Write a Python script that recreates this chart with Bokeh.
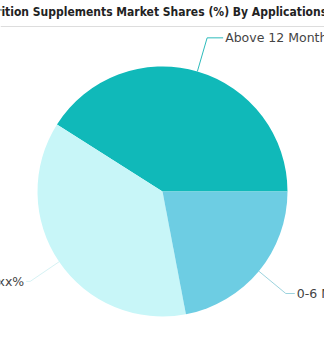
import math
from bokeh.plotting import figure
from bokeh.models import Range1d
from bokeh.core.properties import value
from bokeh.embed import file_html
from bokeh.resources import INLINE

title = "Infant Nutrition Supplements Market Shares (%) By Applications"
categories = ["Above 12 Months", "6-12 Months", "0-6 Months"]
shares = [41, 37, 22]
labels = ["Above 12 Months xx%", "6-12 Months xx%", "0-6 Months xx%"]
colors = ["#10B9B9", "#C8F6F8", "#6DCDE3"]
line_colors = ["#2DBBBB", "#D6F2F4", "#9CD3DE"]

W, H = 324, 359
p = figure(width=W, height=H, output_backend="svg", toolbar_location=None,
           x_range=Range1d(0, W), y_range=Range1d(0, H), min_border=0)
p.axis.visible = False
p.grid.visible = False
p.outline_line_color = None
p.background_fill_color = "white"
p.border_fill_color = "white"

cx, cy, R = 162, H - 191, 125

total = sum(shares)
start = 0.0
starts, ends, mids = [], [], []
for v in shares:
    a = v / total * 2 * math.pi
    starts.append(start)
    ends.append(start + a)
    mids.append(start + a / 2)
    start += a

p.wedge(x=[cx] * 3, y=[cy] * 3, radius=R, radius_units="screen",
        start_angle=starts, end_angle=ends, fill_color=colors, line_color=None)

# leader lines and labels
seg = [16, 4, 9]
for lab, m, lc, s in zip(labels, mids, line_colors, seg):
    x0 = cx + R * math.cos(m)
    y0 = cy + R * math.sin(m)
    r2 = 160
    x1 = cx + r2 * math.cos(m)
    y1 = cy + r2 * math.sin(m)
    side = 1 if math.cos(m) >= 0 else -1
    x2 = x1 + side * s
    p.line([x0, x1, x2], [y0, y1, y1], line_color=lc, line_width=1)
    p.text(x=[x2 + side * 2], y=[y1], text=[lab],
           text_align="left" if side > 0 else "right", text_baseline="middle",
           text_font=value("DejaVu Sans"), text_font_size="12.5px",
           text_color="#444444")

# title and separator
p.text(x=[130], y=[H - 11], text=[title], text_align="center",
       text_baseline="middle", text_font=value("DejaVu Sans Condensed"),
       text_font_style="bold", text_font_size="12px", text_color="#222222")
p.line([0, W], [H - 26, H - 26], line_color="#DDDDDD", line_width=1)

open("out.html", "w").write(file_html(p, INLINE))
